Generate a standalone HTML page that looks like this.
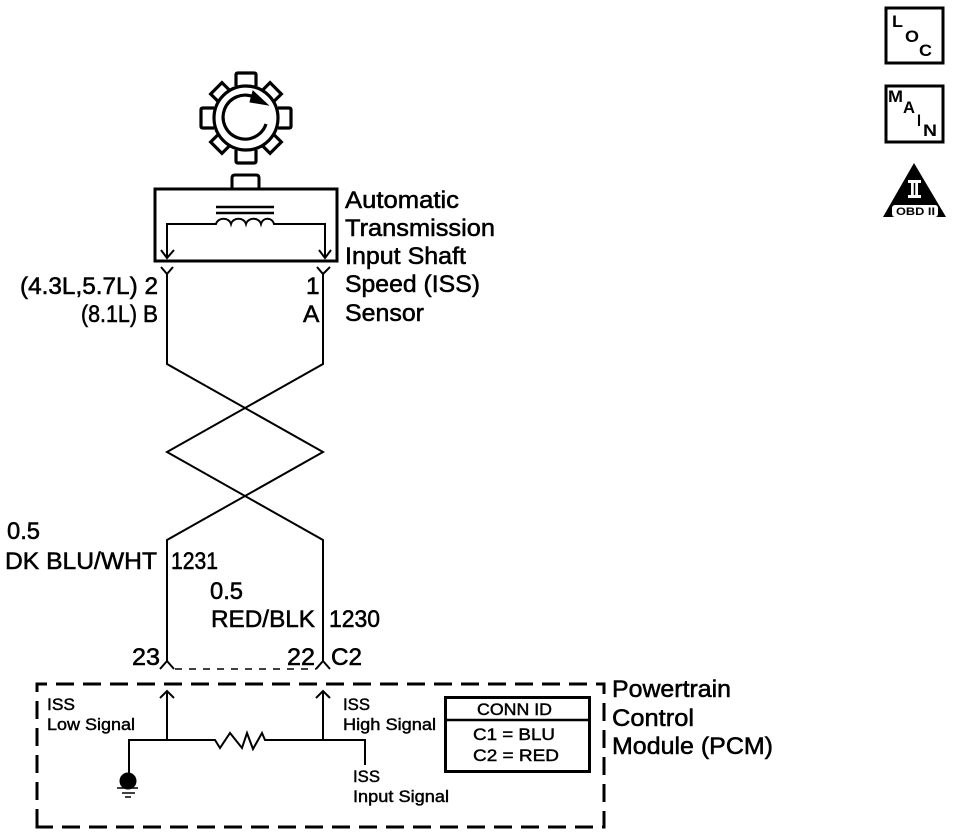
<!DOCTYPE html>
<html><head><meta charset="utf-8"><style>
html,body{margin:0;padding:0;background:#fff}
svg{display:block}
text{font-family:"Liberation Sans",sans-serif;fill:#000;stroke:#000;stroke-width:.55}
.l{font-size:24.500px}
.s{font-size:17px;stroke-width:.45}
.i{font-weight:bold;stroke:none;font-size:17px}
</style></head><body>
<svg width="960" height="840" viewBox="0 0 960 840" xmlns="http://www.w3.org/2000/svg" fill="none" stroke="#000">
<!-- gear -->
<g stroke-width="3.200">
<circle cx="246" cy="118" r="32"/>
<path d="M236 86V75q0-2 2-2h16q2 0 2 2V86"/>
<path d="M236 86V75q0-2 2-2h16q2 0 2 2V86" transform="rotate(90 246 118)"/>
<path d="M236 86V75q0-2 2-2h16q2 0 2 2V86" transform="rotate(180 246 118)"/>
<path d="M236 86V75q0-2 2-2h16q2 0 2 2V86" transform="rotate(270 246 118)"/>
<path d="M238 86V76h16V86" transform="rotate(45 246 118)"/>
<path d="M238 86V76h16V86" transform="rotate(135 246 118)"/>
<path d="M238 86V76h16V86" transform="rotate(225 246 118)"/>
<path d="M238 86V76h16V86" transform="rotate(315 246 118)"/>
<path d="M266 124A22 22 0 1 1 254 97"/>
</g>
<path d="M253 91L268 105L250 102Z" fill="#000" stroke-width="1"/>
<!-- sensor -->
<path d="M232 189V178q0-3 3-3h21q3 0 3 3V189" stroke-width="3"/>
<rect x="155" y="189" width="182" height="72" stroke-width="3"/>
<path d="M216 207H274M216 213H274" stroke-width="2.500"/>
<path d="M167 257V224H216c2-7 13-7 15 0c2-7 13-7 15 0c2-7 13-7 15 0c2-7 11-7 13 0H325V257" stroke-width="2"/>
<path d="M161 250L167 258L174 250M319 250L325 258L331 250" stroke-width="2"/>
<!-- wires -->
<path d="M161 267L167 274L173 267M317 267L323 274L330 267" stroke-width="2"/>
<path d="M167 274V364L323 452L167 540V662M160 669L167 661L174 669" stroke-width="2"/>
<path d="M323 274V364L167 452L323 540V662M316 669L323 661L330 669" stroke-width="2"/>
<path d="M175 669H316" stroke-width="1.500" stroke-dasharray="7 7"/>
<!-- PCM -->
<path d="M37 827V684H604V827Z" stroke-width="3" stroke-dasharray="18 9"/>
<path d="M167 740V691M160 698L167 691L174 698M323 740V691M316 698L323 691L330 698" stroke-width="2"/>
<path d="M129 775V740H215L220 748L230 733L242 748L247 733L253 749L262 733L265 740H365V765" stroke-width="2"/>
<circle cx="128" cy="781" r="8" fill="#000"/>
<path d="M117 788H138M122 793H135M125 797H131" stroke-width="1.500"/>
<!-- conn box -->
<rect x="445.500" y="697.500" width="144" height="74" stroke-width="3"/>
<path d="M445 720H590" stroke-width="2.500"/>
<!-- icons -->
<rect x="886" y="8" width="57" height="55" stroke-width="3"/>
<rect x="886" y="86" width="57" height="56" stroke-width="3"/>
<path d="M914 163L946 217H883Z" fill="#000" stroke="none"/>
<rect x="892" y="205" width="46" height="12" rx="3" fill="#fff" stroke="none"/>
<path d="M908 180H921V183H918V195H921V198H908V195H911V183H908Z" fill="#fff" stroke="none"/>
<path d="M914.500 183V195" stroke="#000" stroke-width="1.500"/>
<g stroke="none">
<text class="i" x="892" y="27" textLength="11" lengthAdjust="spacingAndGlyphs">L</text>
<text class="i" x="905" y="42" textLength="14" lengthAdjust="spacingAndGlyphs">O</text>
<text class="i" x="919" y="56" textLength="13" lengthAdjust="spacingAndGlyphs">C</text>
<text class="i" x="888" y="102" textLength="15" lengthAdjust="spacingAndGlyphs">M</text>
<text class="i" x="903" y="113" textLength="12" lengthAdjust="spacingAndGlyphs">A</text>
<text class="i" x="917" y="126" textLength="4" lengthAdjust="spacingAndGlyphs">I</text>
<text class="i" x="923" y="136" textLength="14" lengthAdjust="spacingAndGlyphs">N</text>
<text x="896" y="215" textLength="39" lengthAdjust="spacingAndGlyphs" style="font-size:11px;font-weight:bold;stroke:none">OBD II</text>
</g>
<!-- labels -->
<g>
<text class="l" x="345" y="208" textLength="114" lengthAdjust="spacingAndGlyphs">Automatic</text>
<text class="l" x="345" y="236" textLength="150" lengthAdjust="spacingAndGlyphs">Transmission</text>
<text class="l" x="345" y="264" textLength="121" lengthAdjust="spacingAndGlyphs">Input Shaft</text>
<text class="l" x="345" y="292" textLength="135" lengthAdjust="spacingAndGlyphs">Speed (ISS)</text>
<text class="l" x="345" y="321" textLength="79" lengthAdjust="spacingAndGlyphs">Sensor</text>
<text class="l" x="20" y="294" textLength="138" lengthAdjust="spacingAndGlyphs">(4.3L,5.7L) 2</text>
<text class="l" x="81" y="322" textLength="56" lengthAdjust="spacingAndGlyphs">(8.1L)</text>
<text class="l" x="143" y="322" textLength="15" lengthAdjust="spacingAndGlyphs">B</text>
<text class="l" x="306" y="294">1</text>
<text class="l" x="303" y="322">A</text>
<text class="l" x="7" y="539" textLength="33" lengthAdjust="spacingAndGlyphs">0.5</text>
<text class="l" x="5" y="569" textLength="152" lengthAdjust="spacingAndGlyphs">DK BLU/WHT</text>
<text class="l" x="171" y="569" textLength="47" lengthAdjust="spacingAndGlyphs">1231</text>
<text class="l" x="210" y="599" textLength="33" lengthAdjust="spacingAndGlyphs">0.5</text>
<text class="l" x="211" y="627" textLength="104" lengthAdjust="spacingAndGlyphs">RED/BLK</text>
<text class="l" x="329" y="627" textLength="51" lengthAdjust="spacingAndGlyphs">1230</text>
<text class="l" x="132" y="665" textLength="28" lengthAdjust="spacingAndGlyphs">23</text>
<text class="l" x="287" y="665" textLength="28" lengthAdjust="spacingAndGlyphs">22</text>
<text class="l" x="331" y="665" textLength="31" lengthAdjust="spacingAndGlyphs">C2</text>
<text class="l" x="612" y="697" textLength="119" lengthAdjust="spacingAndGlyphs">Powertrain</text>
<text class="l" x="612" y="726" textLength="82" lengthAdjust="spacingAndGlyphs">Control</text>
<text class="l" x="612" y="754" textLength="161" lengthAdjust="spacingAndGlyphs">Module (PCM)</text>
<text class="s" x="47" y="710" textLength="28" lengthAdjust="spacingAndGlyphs">ISS</text>
<text class="s" x="47" y="730" textLength="88" lengthAdjust="spacingAndGlyphs">Low Signal</text>
<text class="s" x="343" y="710" textLength="27" lengthAdjust="spacingAndGlyphs">ISS</text>
<text class="s" x="343" y="730" textLength="93" lengthAdjust="spacingAndGlyphs">High Signal</text>
<text class="s" x="353" y="782" textLength="27" lengthAdjust="spacingAndGlyphs">ISS</text>
<text class="s" x="353" y="802" textLength="96" lengthAdjust="spacingAndGlyphs">Input Signal</text>
<text class="s" x="477" y="715" textLength="75" lengthAdjust="spacingAndGlyphs">CONN ID</text>
<text class="s" x="473" y="740" textLength="82" lengthAdjust="spacingAndGlyphs">C1 = BLU</text>
<text class="s" x="473" y="761" textLength="86" lengthAdjust="spacingAndGlyphs">C2 = RED</text>
</g>
</svg>
</body></html>
